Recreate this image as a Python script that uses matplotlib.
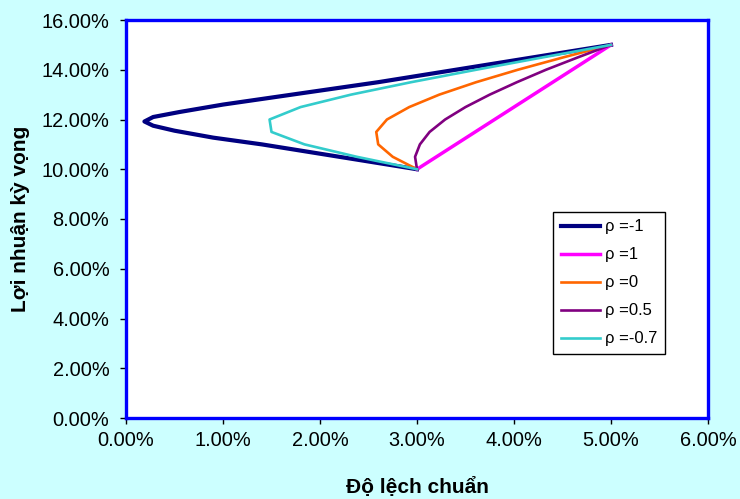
# Efficient frontier - two assets, different correlations

import matplotlib.pyplot as plt
from matplotlib.ticker import PercentFormatter, MultipleLocator

plt.rcParams["font.family"] = ["Liberation Sans", "DejaVu Sans"]

# expected return (%) shared by the series
Returns = [10.0, 10.5, 11.0, 11.5, 12.0, 12.5, 13.0, 13.5, 14.0, 14.5, 15.0]

# rho = -1 is drawn smoothed in the original, so it has its own points
Ret_rho_m1 = [10.0, 10.5, 11.0, 11.27, 11.55, 11.75, 11.92, 12.1, 12.3, 12.6, 13.05, 13.5, 14.0, 14.5, 15.0]
Std_rho_m1 = [3.0, 2.2, 1.4, 0.9, 0.5, 0.28, 0.19, 0.28, 0.55, 1.0, 1.8, 2.6, 3.4, 4.2, 5.0]

# standard deviation (%) per correlation
Std_rho_1 = [3.0, 3.2, 3.4, 3.6, 3.8, 4.0, 4.2, 4.4, 4.6, 4.8, 5.0]
Std_rho_0 = [3.0, 2.75, 2.6, 2.58, 2.69, 2.92, 3.23, 3.61, 4.04, 4.51, 5.0]
Std_rho_05 = [3.0, 2.98, 3.03, 3.13, 3.29, 3.5, 3.75, 4.03, 4.33, 4.66, 5.0]
Std_rho_m07 = [3.0, 2.38, 1.84, 1.5, 1.48, 1.8, 2.32, 2.94, 3.61, 4.3, 5.0]

Labels = ["\u03c1 =-1", "\u03c1 =1", "\u03c1 =0", "\u03c1 =0.5", "\u03c1 =-0.7"]

fig = plt.figure(figsize=(7.4, 4.99), dpi=100, facecolor="#CCFFFF")
ax = fig.add_axes([126 / 740, 81 / 499, 582 / 740, 398 / 499])
ax.set_facecolor("white")

ax.plot(Std_rho_m1, Ret_rho_m1, color="#000080", linewidth=3.0, solid_joinstyle="round", label=Labels[0])
ax.plot(Std_rho_1, Returns, color="#FF00FF", linewidth=2.5, label=Labels[1])
ax.plot(Std_rho_0, Returns, color="#FF6600", linewidth=1.9, label=Labels[2])
ax.plot(Std_rho_05, Returns, color="#800080", linewidth=1.9, label=Labels[3])
ax.plot(Std_rho_m07, Returns, color="#33CCCC", linewidth=1.9, label=Labels[4])

ax.set_xlim(0, 6)
ax.set_ylim(0, 16)
ax.xaxis.set_major_locator(MultipleLocator(1))
ax.yaxis.set_major_locator(MultipleLocator(2))
ax.xaxis.set_major_formatter(PercentFormatter(xmax=100, decimals=2))
ax.yaxis.set_major_formatter(PercentFormatter(xmax=100, decimals=2))

for side in ax.spines:
    ax.spines[side].set_color("#0000FF")
    ax.spines[side].set_linewidth(2.4)

ax.tick_params(axis="both", direction="out", length=4, width=1, color="black", labelsize=14.4)
ax.tick_params(axis="y", pad=8)
ax.tick_params(axis="x", pad=5.5)

ax.set_xlabel("\u0110\u1ed9 l\u1ec7ch chu\u1ea9n", fontsize=15, fontweight="bold", labelpad=19)
ax.set_ylabel("L\u1ee3i nhu\u1eadn k\u1ef3 v\u1ecdng", fontsize=15, fontweight="bold", labelpad=8.5)

leg = ax.legend(loc="upper left", bbox_to_anchor=(0.734, 0.518), borderaxespad=0,
                fontsize=12, fancybox=False, framealpha=1, edgecolor="black",
                handlelength=2.35, handletextpad=0.3, labelspacing=0.78, borderpad=0.45)
leg.get_frame().set_linewidth(1.0)

plt.savefig("out.png", dpi=100, facecolor=fig.get_facecolor())
